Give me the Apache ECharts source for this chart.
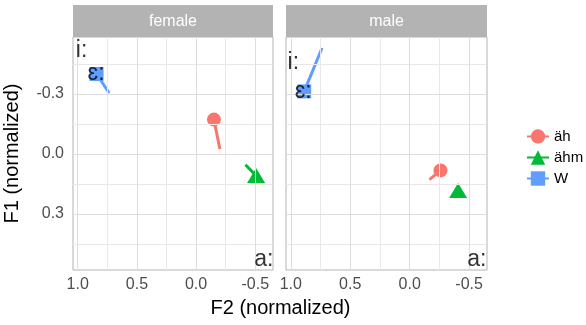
<!DOCTYPE html>
<html><head><meta charset="utf-8">
<script src="https://cdn.jsdelivr.net/npm/echarts@6/dist/echarts.min.js"></script>
<style>html,body{margin:0;padding:0;background:#fff}#c{width:586px;height:325px}</style>
</head><body><div id="c"></div>
<script>
// ---- data ----
const panels = ['female', 'male'];
const categories = ['äh', 'ähm', 'W'];
const xTicks = [1.0, 0.5, 0.0, -0.5];
const xMinor = [0.75, 0.25, -0.25];
const yTicks = [-0.3, 0.0, 0.3];
const yMinor = [-0.45, -0.15, 0.15, 0.45];

// point (start) and line end per category, F2 (x) / F1 (y)
const femaleF2 = [-0.151, -0.507, 0.841];
const femaleF1 = [-0.172, 0.108, -0.400];
const femaleF2End = [-0.201, -0.417, 0.735];
const femaleF1End = [-0.025, 0.054, -0.305];
const maleF2 = [-0.259, -0.407, 0.887];
const maleF1 = [0.082, 0.182, -0.313];
const maleF2End = [-0.166, -0.395, 0.737];
const maleF1End = [0.128, 0.165, -0.530];

// vowel reference labels
const vowelLabels = ['i:', 'ɛ:', 'a:'];
const femaleVowelF2 = [0.968, 0.845, -0.572];
const femaleVowelF1 = [-0.518, -0.403, 0.530];
const maleVowelF2 = [0.978, 0.896, -0.564];
const maleVowelF1 = [-0.455, -0.313, 0.530];

// ---- chart ----
const FONT = '"Liberation Sans", Arial, sans-serif';
const colors = ['#F8766D', '#00BA38', '#619CFF'];
const symbols = ['circle', 'triangle', 'rect'];
const symbolSizes = [14, [18, 15], 14];

const pts = [
  {f2: femaleF2, f1: femaleF1, f2e: femaleF2End, f1e: femaleF1End, vx: femaleVowelF2, vy: femaleVowelF1},
  {f2: maleF2, f1: maleF1, f2e: maleF2End, f1e: maleF1End, vx: maleVowelF2, vy: maleVowelF1}
];

const gridRects = [
  {left: 73, top: 37, width: 200, height: 233},
  {left: 286, top: 37, width: 201, height: 233}
];

const grid = gridRects.map(g => Object.assign({show: true, borderColor: '#B3B3B3', borderWidth: 1, backgroundColor: '#fff'}, g));

const xAxis = panels.map((p, i) => ({
  type: 'value', gridIndex: i, inverse: true, min: -0.65, max: 1.04,
  axisLine: {show: false}, splitLine: {show: false},
  axisTick: {show: true, customValues: xTicks, length: 4, lineStyle: {color: '#B3B3B3', width: 1}},
  axisLabel: {customValues: xTicks, formatter: v => v.toFixed(1), color: '#4D4D4D', fontSize: 16, margin: 7, fontFamily: FONT}
}));

const yAxis = panels.map((p, i) => ({
  type: 'value', gridIndex: i, inverse: true, min: -0.585, max: 0.58,
  axisLine: {show: false}, splitLine: {show: false},
  axisTick: {show: i === 0, customValues: yTicks, length: 4, lineStyle: {color: '#B3B3B3', width: 1}},
  axisLabel: {show: i === 0, customValues: yTicks, formatter: v => v.toFixed(1), color: '#4D4D4D', fontSize: 16, margin: 9, fontFamily: FONT},
  name: i === 0 ? 'F1 (normalized)' : '', nameLocation: 'middle', nameGap: 51, nameRotate: 90,
  nameTextStyle: {fontSize: 20, color: '#000', fontFamily: FONT}
}));

const series = [];
panels.forEach((p, i) => {
  const ml = [];
  xMinor.forEach(v => ml.push({xAxis: v, lineStyle: {color: '#E8E8E8', width: 1, type: 'solid'}}));
  yMinor.forEach(v => ml.push({yAxis: v, lineStyle: {color: '#E8E8E8', width: 1, type: 'solid'}}));
  xTicks.forEach(v => ml.push({xAxis: v, lineStyle: {color: '#DEDEDE', width: 1, type: 'solid'}}));
  yTicks.forEach(v => ml.push({yAxis: v, lineStyle: {color: '#DEDEDE', width: 1, type: 'solid'}}));
  series.push({
    type: 'line', xAxisIndex: i, yAxisIndex: i, data: [], silent: true, z: 1,
    markLine: {silent: true, symbol: ['none', 'none'], label: {show: false}, animation: false, data: ml}
  });
  const d = pts[i];
  categories.forEach((c, k) => {
    series.push({
      type: 'line', name: c, xAxisIndex: i, yAxisIndex: i, z: 3,
      symbol: symbols[k], symbolSize: symbolSizes[k], showSymbol: true,
      itemStyle: {color: colors[k], opacity: 1},
      lineStyle: {color: colors[k], width: 3},
      animation: false,
      data: [[d.f2[k], d.f1[k]], {value: [d.f2e[k], d.f1e[k]], symbol: 'none'}]
    });
  });
  series.push({
    type: 'scatter', xAxisIndex: i, yAxisIndex: i, z: 5, silent: true, symbolSize: 0, animation: false,
    data: vowelLabels.map((l, k) => ({name: l, value: [d.vx[k], d.vy[k]]})),
    label: {show: true, position: 'inside', formatter: '{b}', color: '#000', fontSize: 23, fontFamily: FONT}
  });
});

const graphic = [];
panels.forEach((p, i) => {
  const g = gridRects[i];
  graphic.push({type: 'rect', shape: {x: g.left, y: 5, width: g.width, height: 32}, style: {fill: '#B3B3B3'}, z: 10});
  graphic.push({type: 'text', x: g.left + g.width / 2, y: 21.5, z: 11,
    style: {text: p, fill: '#FFFFFF', font: '16px ' + FONT, align: 'center', verticalAlign: 'middle', textAlign: 'center', textVerticalAlign: 'middle'}});
});
graphic.push({type: 'text', x: 280.5, y: 308, z: 11,
  style: {text: 'F2 (normalized)', fill: '#000', font: '20px ' + FONT, align: 'center', verticalAlign: 'middle', textAlign: 'center', textVerticalAlign: 'middle'}});

const chart = echarts.init(document.getElementById('c'));
chart.setOption({
  animation: false,
  backgroundColor: '#fff',
  grid, xAxis, yAxis, series, graphic,
  legend: {
    data: categories, orient: 'vertical', left: 521, top: 124,
    itemWidth: 22, itemHeight: 18, itemGap: 6,
    textStyle: {fontSize: 15, color: '#000', fontFamily: FONT}
  }
});
</script>
</body></html>
